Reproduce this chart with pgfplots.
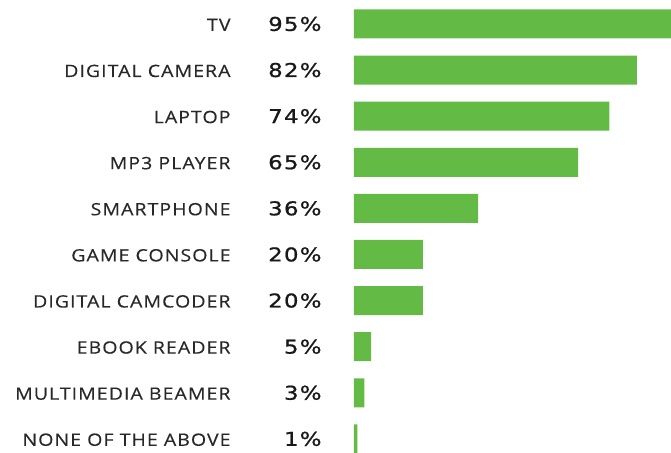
\documentclass[border=0pt]{standalone}
\usepackage{fontspec}
\usepackage{pgfplots}
\pgfplotsset{compat=1.18}
\setmainfont{Open Sans}[LetterSpace=6, FakeStretch=1.15, FakeBold=0.3]
\newfontfamily\numfont{DejaVu Sans}[LetterSpace=7, FakeStretch=1.2, FakeBold=1]
\definecolor{barg}{RGB}{99,187,70}
\definecolor{labc}{RGB}{40,40,40}
\definecolor{numc}{RGB}{25,25,25}
\newcommand\lab[2]{\makebox[0pt][r]{\color{labc}\fontsize{17bp}{19bp}\selectfont #1}\hspace*{91bp}\makebox[0pt][r]{\color{numc}\numfont\fontsize{19bp}{21bp}\selectfont #2\%}}
\begin{document}
\begin{tikzpicture}
\begin{axis}[
  name=ax,
  scale only axis,
  width=317bp, height=452.7bp,
  xbar, bar width=29bp,
  xmin=0, xmax=91.9,
  ymin=-0.52, ymax=9.30, y dir=reverse,
  axis line style={draw=none},
  tick style={draw=none},
  xtick=\empty,
  ytick={0,1,2,3,4,5,6,7,8,9},
  yticklabels={
    {\lab{TV}{95}},
    {\lab{DIGITAL CAMERA}{82}},
    {\lab{LAPTOP}{74}},
    {\lab{MP3 PLAYER}{65}},
    {\lab{SMARTPHONE}{36}},
    {\lab{GAME CONSOLE}{20}},
    {\lab{DIGITAL CAMCODER}{20}},
    {\lab{EBOOK READER}{5}},
    {\lab{MULTIMEDIA BEAMER}{3}},
    {\lab{NONE OF THE ABOVE}{1}}},
  yticklabel style={anchor=east, inner sep=0pt, xshift=-28bp},
]
\addplot[fill=barg, draw=none] coordinates {
  (95,0) (82,1) (74,2) (65,3) (36,4) (20,5) (20,6) (5,7) (3,8) (1,9)};
\end{axis}
\pgfresetboundingbox
\path (ax.south west) ++(-354bp,0) rectangle (ax.north east);
\end{tikzpicture}
\end{document}
